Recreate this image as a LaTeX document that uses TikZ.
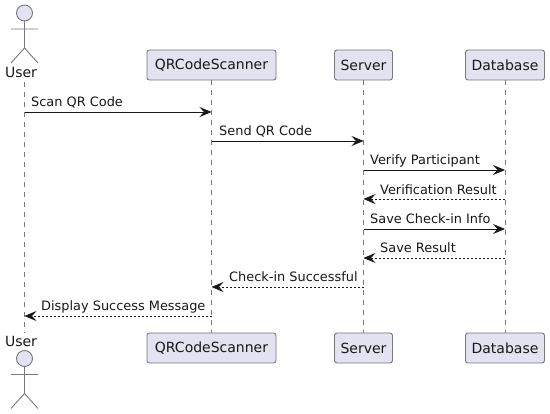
\documentclass[tikz,border=0pt]{standalone}
\usepackage{fontspec}
\setmainfont{DejaVu Sans}
\usetikzlibrary{arrows.meta}
\definecolor{pfill}{HTML}{E2E2F0}
\definecolor{pline}{HTML}{787880}
\definecolor{tcol}{HTML}{181818}
\tikzset{
  x=1pt,y=-1pt,
  pbox/.style={draw=pline,fill=pfill,rounded corners=2.5pt,line width=0.9pt,minimum height=30pt,inner sep=0pt,text=tcol,font=\fontsize{14}{15}\selectfont,anchor=center},
  life/.style={draw=pline,line width=0.8pt,dash pattern=on 5pt off 5pt},
  actline/.style={draw=pline,line width=0.9pt,fill=pfill},
  actlabel/.style={text=tcol,font=\fontsize{14}{15}\selectfont,inner sep=0pt},
  tip/.style={-{Stealth[length=12pt,width=10pt,inset=4.5pt,color=tcol]}},
  syncm/.style={tip,draw=tcol,line width=0.8pt},
  retm/.style={tip,draw=tcol,line width=0.8pt,dash pattern=on 2pt off 2pt},
  lbl/.style={text=tcol,font=\fontsize{12.9}{14}\selectfont,inner sep=0pt,anchor=base west},
}
\begin{document}
\begin{tikzpicture}
\useasboundingbox (0,0) rectangle (550,414);
\fill[white] (0,0) rectangle (550,414);
\coordinate (ut) at (24.5,82); \coordinate (ub) at (24.5,333);
\node[minimum width=129pt,pbox] (qt) at (211.5,65) {QRCodeScanner};
\node[minimum width=129pt,pbox] (qb) at (211.5,348) {QRCodeScanner};
\node[minimum width=58pt,pbox] (st) at (363.5,65) {Server};
\node[minimum width=58pt,pbox] (sb) at (363.5,348) {Server};
\node[minimum width=79pt,pbox] (dt) at (505,65) {Database};
\node[minimum width=79pt,pbox] (db) at (505,348) {Database};
\draw[life] (ut) -- (ub);
\draw[life] (qt) -- (qb);
\draw[life] (st) -- (sb);
\draw[life] (dt) -- (db);
% actors
\draw[actline] (24.5,13) circle (8);
\draw[actline,fill=none] (24.5,21) -- (24.5,48) (11,29) -- (38,29) (11,63) -- (24.5,48) -- (38,63);
\node[actlabel] (utl) at (21,72.5) {User};
\draw[actline] (24.5,358.5) circle (8);
\draw[actline,fill=none] (24.5,366.5) -- (24.5,393.5) (11,374.5) -- (38,374.5) (11,408.5) -- (24.5,393.5) -- (38,408.5);
\node[actlabel] (ubl) at (21,341) {User};
% messages
\foreach \n/\y/\x in {a/112/24.5,b/112/211.5,c/141/211.5,d/141/363.5,e/170/363.5,f/170/505,g/199/363.5,h/199/505,i/229/363.5,j/229/505,k/258/363.5,l/258/505,m/287/211.5,o/287/363.5,p/316/24.5,q/316/211.5}
  \coordinate (\n) at (\x,\y);
\draw[syncm] (a) -- (b);
\draw[syncm] (c) -- (d);
\draw[syncm] (e) -- (f);
\draw[retm] (h) -- (g);
\draw[syncm] (i) -- (j);
\draw[retm] (l) -- (k);
\draw[retm] (o) -- (m);
\draw[retm] (q) -- (p);
\node[lbl] at (31,107) {Scan QR Code};
\node[lbl] at (219,136) {Send QR Code};
\node[lbl] at (370,165) {Verify Participant};
\node[lbl] at (380,194.5) {Verification Result};
\node[lbl] at (370,224) {Save Check-in Info};
\node[lbl] at (380,253) {Save Result};
\node[lbl] at (229,282) {Check-in Successful};
\node[lbl] at (41,311) {Display Success Message};
\end{tikzpicture}
\end{document}
